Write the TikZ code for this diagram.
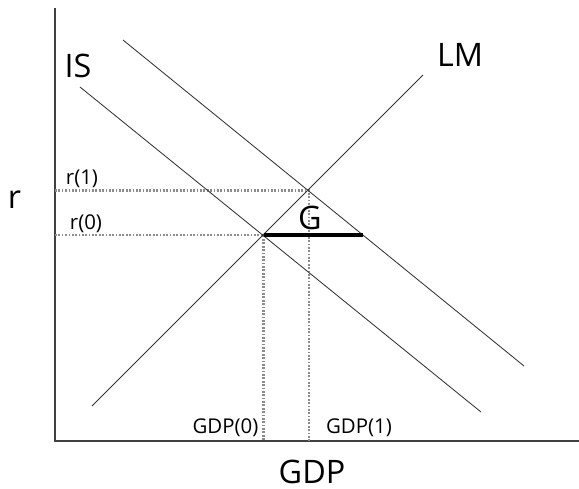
\documentclass[tikz,border=0pt]{standalone}
\usepackage{fontspec}
\setsansfont{Open Sans}
\usetikzlibrary{positioning}
\tikzset{
  axis/.style={draw=black!75, line width=0.9pt},
  curve/.style={draw=black!80, line width=0.6pt},
  guide/.style={draw=black!45, line width=1.6pt, dash pattern=on 1.2pt off 1.2pt},
  gapline/.style={draw=black, line width=2.2pt},
  biglabel/.style={inner sep=0pt, font=\sffamily\fontsize{23}{26}\selectfont},
  smalllabel/.style={inner sep=0pt, font=\sffamily\fontsize{14.5}{17}\selectfont}
}

\begin{document}
\begin{tikzpicture}[x=0.025cm, y=-0.025cm]
  \useasboundingbox (0,0) rectangle (579,488);
  % axes
  \coordinate (top)    at (55,8);
  \coordinate (origin) at (55,441);
  \coordinate (right)  at (579,441);
  \draw[axis] (top) -- (origin) -- (right);
  % curves
  \coordinate (is0a) at (80,87);
  \coordinate (is0b) at (481,412);
  \coordinate (is1a) at (123,40);
  \coordinate (is1b) at (524,366);
  \coordinate (lma)  at (92,406);
  \coordinate (lmb)  at (423,75);
  \coordinate (e0) at (263.5,235);
  \coordinate (e1) at (309,190.5);
  \coordinate (g1) at (363,235);
  % guides
  \coordinate (r0axis) at (55,235);
  \coordinate (r1axis) at (55,190.5);
  \coordinate (gdp0axis) at (263.5,441);
  \coordinate (gdp1axis) at (309,441);
  \draw[guide] (r1axis) -- (e1) -- (gdp1axis);
  \draw[guide] (r0axis) -- (e0) -- (gdp0axis);
  \draw[curve] (is0a) -- (is0b);
  \draw[curve] (is1a) -- (is1b);
  \draw[curve] (lma) -- (lmb);
  \draw[gapline] (e0) -- (g1);
  % labels
  \node[biglabel] (lblIS)  at (78,65.5)  {IS};
  \node[biglabel] (lblLM)  at (460,55)   {LM};
  \node[biglabel] (lblG)   at (310,218)  {G};
  \node[biglabel] (lblr)   at (14.5,200) {r};
  \node[biglabel] (lblgdp) at (312,471.5) {GDP};
  \node[smalllabel] (r1)   at (82,178.5)  {r(1)};
  \node[smalllabel] (r0)   at (86,223.5)  {r(0)};
  \node[smalllabel] (gdp0) at (225.5,428) {GDP(0)};
  \node[smalllabel] (gdp1) at (359,428)   {GDP(1)};
\end{tikzpicture}
\end{document}
